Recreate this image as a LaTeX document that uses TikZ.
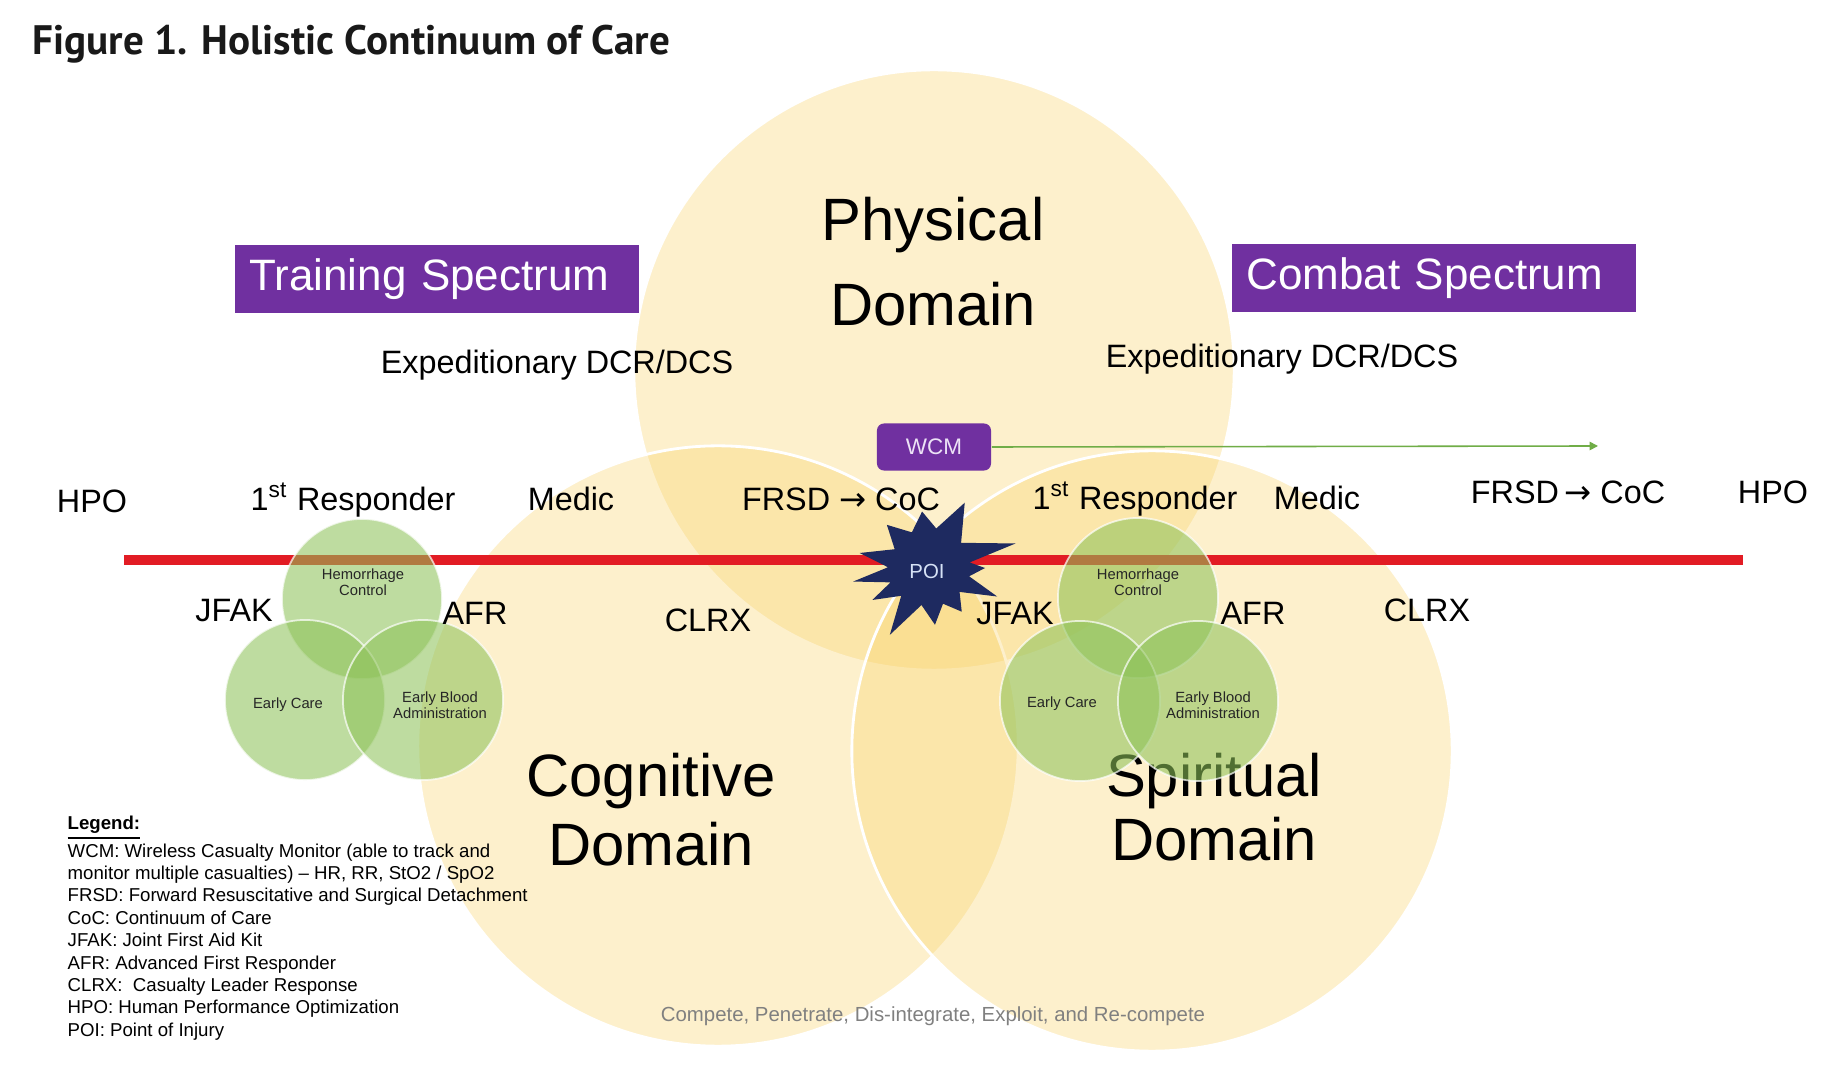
\documentclass[tikz,border=0pt]{standalone}
\usepackage{fontspec}
\setmainfont{Liberation Sans}
\newfontfamily\titlefont{PT Sans}
\newfontfamily\arrowfont{DejaVu Sans}
\usetikzlibrary{arrows.meta}

\definecolor{domyellow}{RGB}{249,210,102}
\definecolor{venngreen}{RGB}{141,194,88}
\definecolor{spectrumpurple}{RGB}{112,48,160}
\definecolor{linered}{RGB}{226,28,36}
\definecolor{poinavy}{RGB}{30,42,96}
\definecolor{wcmgreen}{RGB}{112,173,71}

\newcommand{\toarrow}{{\arrowfont\char"2192}}

\begin{document}
\begin{tikzpicture}[x=0.01cm, y=-0.01cm,
    domcircle/.style={circle, minimum size=6cm, inner sep=0pt, fill=domyellow, fill opacity=0.33, draw=white, line width=0.8pt},
    venn/.style={circle, minimum size=1.6cm, inner sep=0pt, fill=venngreen, fill opacity=0.57, draw=white, draw opacity=0.7, line width=0.5pt},
    domlabel/.style={anchor=base, inner sep=0pt, font=\fontsize{17}{20}\selectfont},
    phase/.style={anchor=base, inner sep=0pt, font=\fontsize{9.2}{11}\selectfont},
    venntext/.style={align=center, inner sep=0pt, text=black!85, font=\fontsize{4.2}{4.6}\selectfont},
    spectrum/.style={fill=spectrumpurple, text=white, minimum width=4.03cm, minimum height=0.67cm, text width=3.75cm, align=left, inner xsep=0.14cm, font=\fontsize{12.5}{14}\selectfont},
    redline/.style={linered, line width=2.85pt},
    wcmline/.style={wcmgreen, line width=0.45pt, -{Triangle[length=2.4pt, width=2.4pt]}}]
\fill[white] (0,0) rectangle (1834,1080);
\useasboundingbox (0,0) rectangle (1834,1080);

\node[domcircle] (phys) at (934,370) {};
\node[domcircle] (cogn) at (718,746) {};
\node[domcircle] (spir) at (1152,751) {};

\node[domlabel] (physA) at (933,241) {Physical};
\node[domlabel] (physB) at (933,326) {Domain};
\node[domlabel] (cognA) at (651,797) {Cognitive};
\node[domlabel] (cognB) at (651,865) {Domain};
\node[domlabel] (spirA) at (1214,797) {Spiritual};
\node[domlabel] (spirB) at (1214,860) {Domain};

\coordinate (lineL) at (124,560);
\coordinate (lineR) at (1743,560);
\draw[redline] (lineL) -- (lineR);

\node[venn] (hemL) at (362,599) {};
\node[venn] (earlyL) at (305,700) {};
\node[venn] (bloodL) at (423,700) {};
\node[venn] (hemR) at (1138,598) {};
\node[venn] (earlyR) at (1080,701) {};
\node[venn] (bloodR) at (1198,701) {};

\node[venntext] (hemLt) at (363,582) {Hemorrhage\\Control};
\node[venntext] (earlyLt) at (288,705) {Early Care};
\node[venntext] (bloodLt) at (440,705) {Early Blood\\Administration};
\node[venntext] (hemRt) at (1138,582) {Hemorrhage\\Control};
\node[venntext] (earlyRt) at (1062,704) {Early Care};
\node[venntext] (bloodRt) at (1213,705) {Early Blood\\Administration};

\node[phase] (expL) at (557,374) {Expeditionary DCR/DCS};
\node[phase] (expR) at (1282,368) {Expeditionary DCR/DCS};
\node[phase] (hpoL) at (92,513) {HPO};
\node[phase] (respL) at (353,511) {1\textsuperscript{st} Responder};
\node[phase] (medicL) at (571,511) {Medic};
\node[phase] (frsdL) at (841,511) {FRSD \toarrow\ CoC};
\node[phase] (respR) at (1135,510) {1\textsuperscript{st} Responder};
\node[phase] (medicR) at (1317,510) {Medic};
\node[phase] (frsdR) at (1568,504) {FRSD\,\toarrow\ CoC};
\node[phase] (hpoR) at (1773,504) {HPO};
\node[phase] (jfakL) at (234,622) {JFAK};
\node[phase] (afrL) at (475,625) {AFR};
\node[phase] (clrxL) at (708,632) {CLRX};
\node[phase] (jfakR) at (1015,625) {JFAK};
\node[phase] (afrR) at (1253,625) {AFR};
\node[phase] (clrxR) at (1427,622) {CLRX};

\fill[poinavy, shift={(930,568)}] (-62:74) -- (-39:40) -- (-16:89) -- (-8:40) -- (0:55) -- (12:40)
  -- (23:73) -- (39:38) -- (54:54) -- (70:38) -- (85:57) -- (103:38) -- (121:78) -- (136:40)
  -- (151:66) -- (160:42) -- (170:78) -- (181:42) -- (192:72) -- (208:40) -- (225:61)
  -- (243:40) -- (262:57) -- (279:40) -- cycle;
\node[text={rgb,255:red,214;green,226;blue,246}, font=\fontsize{5.8}{7}\selectfont] (poi) at (927,571) {POI};

\node[spectrum] (training) at (437,279) {Training Spectrum};
\node[spectrum] (combat) at (1434,278) {Combat Spectrum};

\node[fill=spectrumpurple, rounded corners=2pt, minimum width=1.14cm, minimum height=0.47cm, text={rgb,255:red,236;green,226;blue,246}, font=\fontsize{6.4}{7.5}\selectfont] (wcm) at (934,447) {WCM};
\coordinate (wcmend) at (1598,446);
\draw[wcmline] (wcm.east) -- (wcmend);

\node[anchor=north west, inner sep=0pt, align=left, font=\fontsize{5.3}{6.36}\selectfont] (legend) at (67,815)
  {\textbf{\underline{Legend:}}\\
   WCM: Wireless Casualty Monitor (able to track and\\
   monitor multiple casualties) -- HR, RR, StO2 / SpO2\\
   FRSD: Forward Resuscitative and Surgical Detachment\\
   CoC: Continuum of Care\\
   JFAK: Joint First Aid Kit\\
   AFR: Advanced First Responder\\
   CLRX:\ \ Casualty Leader Response\\
   HPO: Human Performance Optimization\\
   POI: Point of Injury};

\node[anchor=base, inner sep=0pt, text=black!50, font=\fontsize{5.8}{7}\selectfont] (compete) at (933,1021)
  {Compete, Penetrate, Dis-integrate, Exploit, and Re-compete};

\node[anchor=base west, inner sep=0pt, text=black!90, font=\titlefont\bfseries\fontsize{11.7}{14}\selectfont] (title) at (32,55)
  {Figure 1. Holistic Continuum of Care};
\end{tikzpicture}
\end{document}
